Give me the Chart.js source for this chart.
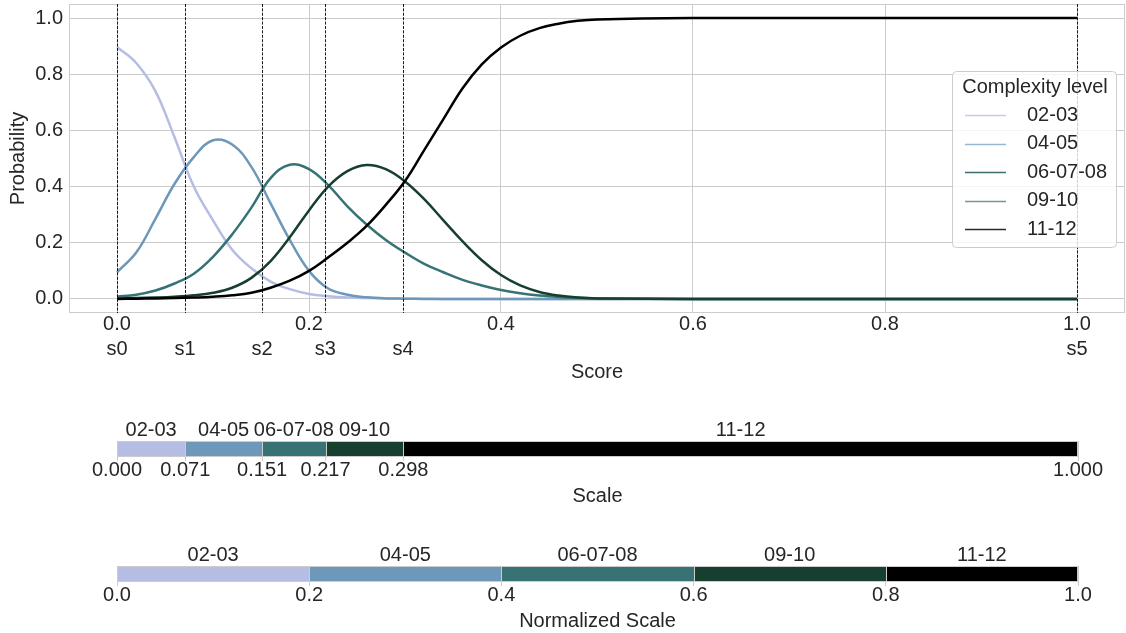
<!DOCTYPE html>
<html>
<head>
<meta charset="utf-8">
<title>Complexity level probabilities</title>
<script src="https://cdn.jsdelivr.net/npm/chart.js@4.4.0/dist/chart.umd.min.js"></script>
<style>
  body { margin: 0; background: #fff; }
  #wrap { position: relative; width: 1126px; height: 633px; }
  canvas { position: absolute; left: 0; }
</style>
</head>
<body>
<div id="wrap">
  <canvas id="main" width="1126" height="385" style="top:0"></canvas>
  <canvas id="scale" width="1126" height="125" style="top:395px"></canvas>
  <canvas id="norm" width="1126" height="113" style="top:520px"></canvas>
</div>
<script>
// complexity levels and their colours
const levels = ['02-03', '04-05', '06-07-08', '09-10', '11-12'];
const levelColors = ['#b5bde4', '#6e98b9', '#377374', '#173f30', '#000000'];
const legendColors = ['#c6cbee', '#98b6ce', '#3e6e6e', '#7a9690', '#2a2a2a'];

// score grid of the probability curves
const scores = [0, 0.02, 0.04, 0.06, 0.08, 0.10, 0.12, 0.14, 0.16, 0.18, 0.20, 0.22, 0.24, 0.26,
  0.28, 0.30, 0.32, 0.34, 0.36, 0.38, 0.40, 0.42, 0.44, 0.46, 0.48, 0.50, 0.60, 0.70, 0.80, 0.90, 1.00];

const prob0203 = [0.897, 0.84, 0.74, 0.575, 0.40, 0.28, 0.175, 0.109, 0.062, 0.035, 0.018, 0.010, 0.005,
  0.003, 0.002, 0.001, 0.001, 0, 0, 0, 0, 0, 0, 0, 0, 0, 0, 0, 0, 0, 0];
const prob0405 = [0.095, 0.165, 0.285, 0.41, 0.505, 0.565, 0.55, 0.47, 0.34, 0.21, 0.10, 0.037, 0.015,
  0.006, 0.002, 0.001, 0, 0, 0, 0, 0, 0, 0, 0, 0, 0, 0, 0, 0, 0, 0];
const prob060708 = [0.008, 0.015, 0.03, 0.055, 0.09, 0.15, 0.23, 0.325, 0.43, 0.478, 0.462, 0.405, 0.33,
  0.265, 0.21, 0.165, 0.125, 0.095, 0.068, 0.048, 0.032, 0.02, 0.012, 0.007, 0.004, 0.002, 0, 0, 0, 0, 0];
const prob0910 = [0.002, 0.003, 0.005, 0.008, 0.013, 0.022, 0.04, 0.075, 0.135, 0.22, 0.315, 0.40, 0.455,
  0.477, 0.462, 0.418, 0.355, 0.28, 0.205, 0.138, 0.085, 0.048, 0.025, 0.012, 0.005, 0.002, 0, 0, 0, 0, 0];
const prob1112 = [0, 0.001, 0.002, 0.003, 0.005, 0.008, 0.013, 0.022, 0.04, 0.065, 0.10, 0.148, 0.20,
  0.26, 0.335, 0.42, 0.53, 0.64, 0.75, 0.835, 0.895, 0.937, 0.964, 0.98, 0.99, 0.995, 1, 1, 1, 1, 1];
const probs = [prob0203, prob0405, prob060708, prob0910, prob1112];

// thresholds between levels
const scoreBounds = [0, 0.071, 0.151, 0.217, 0.298, 1.0];
const scoreBoundLabels = ['s0', 's1', 's2', 's3', 's4', 's5'];
const scaleTickLabels = ['0.000', '0.071', '0.151', '0.217', '0.298', '1.000'];
const normBounds = [0, 0.2, 0.4, 0.6, 0.8, 1.0];
const normTickLabels = ['0.0', '0.2', '0.4', '0.6', '0.8', '1.0'];
const scoreTicks = [0, 0.2, 0.4, 0.6, 0.8, 1.0];
const probTicks = [0, 0.2, 0.4, 0.6, 0.8, 1.0];

const FONT = '"Liberation Sans", Arial, sans-serif';
const TEXT = '#262626';
const GRID = '#cccccc';

Chart.defaults.font.family = FONT;
Chart.defaults.font.size = 20;
Chart.defaults.color = TEXT;

// light frame around the plot area
const frame = {
  id: 'frame',
  beforeDatasetsDraw(chart) {
    const { ctx, chartArea: a } = chart;
    ctx.save();
    ctx.strokeStyle = GRID;
    ctx.lineWidth = 1;
    ctx.strokeRect(Math.round(a.left) + 0.5, Math.round(a.top) + 0.5,
      Math.round(a.width) - 1, Math.round(a.height) - 1);
    ctx.restore();
  }
};

// dashed vertical lines at the thresholds
const thresholdLines = {
  id: 'thresholdLines',
  afterDatasetsDraw(chart) {
    const { ctx, chartArea: a, scales } = chart;
    ctx.save();
    ctx.strokeStyle = '#000';
    ctx.lineWidth = 0.9;
    ctx.setLineDash([3, 1.4]);
    scoreBounds.forEach(v => {
      const px = Math.round(scales.x.getPixelForValue(v)) + 0.5;
      ctx.beginPath();
      ctx.moveTo(px, a.top);
      ctx.lineTo(px, a.bottom);
      ctx.stroke();
    });
    ctx.restore();
  }
};

// legend box at center right of the plot area
const legendBox = {
  id: 'legendBox',
  afterDraw(chart) {
    const { ctx, chartArea: a } = chart;
    const w = 164, h = 176, rowH = 28.6;
    const x0 = Math.round(a.right - 9 - w);
    const y0 = Math.round((a.top + a.bottom) / 2 - h / 2);
    ctx.save();
    ctx.fillStyle = 'rgba(255,255,255,0.8)';
    ctx.strokeStyle = GRID;
    ctx.lineWidth = 1;
    ctx.beginPath();
    ctx.roundRect(x0 + 0.5, y0 + 0.5, w, h, 4);
    ctx.fill();
    ctx.stroke();
    ctx.fillStyle = TEXT;
    ctx.font = '20px ' + FONT;
    ctx.textBaseline = 'middle';
    ctx.textAlign = 'center';
    ctx.fillText('Complexity level', x0 + w / 2 + 1, y0 + 16);
    ctx.textAlign = 'left';
    levels.forEach((name, i) => {
      const y = y0 + 44 + i * rowH;
      ctx.strokeStyle = legendColors[i];
      ctx.lineWidth = 1.5;
      ctx.beginPath();
      ctx.moveTo(x0 + 13, Math.round(y) + 0.5);
      ctx.lineTo(x0 + 54, Math.round(y) + 0.5);
      ctx.stroke();
      ctx.fillText(name, x0 + 75, y);
    });
    ctx.restore();
  }
};

// x ticks: numeric scores plus threshold names on a second row
const mainTicks = [...new Set([...scoreTicks, ...scoreBounds])].sort((a, b) => a - b);

new Chart(document.getElementById('main'), {
  type: 'line',
  data: {
    datasets: levels.map((name, i) => ({
      label: name,
      data: scores.map((s, j) => ({ x: s, y: probs[i][j] })),
      borderColor: levelColors[i],
      borderWidth: 2.5,
      pointRadius: 0,
      tension: 0.4,
      order: levels.length - i
    }))
  },
  options: {
    responsive: false,
    devicePixelRatio: 1,
    animation: false,
    layout: { padding: { top: 4, right: 1, left: 0, bottom: 0 } },
    plugins: { legend: { display: false }, tooltip: { enabled: false } },
    scales: {
      x: {
        type: 'linear',
        min: -0.05,
        max: 1.05,
        afterBuildTicks: axis => { axis.ticks = mainTicks.map(v => ({ value: v })); },
        afterFit: axis => { axis.height = 72; axis.paddingLeft = 0; axis.paddingRight = 0; },
        ticks: {
          autoSkip: false,
          maxRotation: 0,
          minRotation: 0,
          padding: -1.5,
          font: { size: 20, lineHeight: 1.25 },
          callback: v => {
            const i = scoreTicks.indexOf(v);
            const k = scoreBounds.indexOf(v);
            return [i >= 0 ? v.toFixed(1) : '', k >= 0 ? scoreBoundLabels[k] : ''];
          }
        },
        grid: {
          drawTicks: false,
          color: c => (c.tick && scoreTicks.includes(c.tick.value)) ? GRID : 'rgba(0,0,0,0)'
        },
        border: { display: false },
        title: { display: true, text: 'Score', padding: { top: 0, bottom: 1 } }
      },
      y: {
        min: -0.05,
        max: 1.05,
        afterBuildTicks: axis => { axis.ticks = probTicks.map(v => ({ value: v })); },
        afterFit: axis => { axis.width = 69; axis.paddingTop = 0; axis.paddingBottom = 0; },
        ticks: { padding: 6, callback: v => v.toFixed(1) },
        grid: { drawTicks: false, color: GRID },
        border: { display: false },
        title: { display: true, text: 'Probability', padding: { top: 6, bottom: 0 } }
      }
    }
  },
  plugins: [frame, thresholdLines, legendBox]
});

// outline and separators of a colour bar
const barOutline = {
  id: 'barOutline',
  afterDatasetsDraw(chart, args, opts) {
    const { ctx, chartArea: a, scales } = chart;
    ctx.save();
    ctx.strokeStyle = GRID;
    ctx.lineWidth = 1;
    opts.bounds.forEach(v => {
      const px = Math.round(scales.x.getPixelForValue(v)) + 0.5;
      ctx.beginPath();
      ctx.moveTo(px, a.top);
      ctx.lineTo(px, a.bottom);
      ctx.stroke();
    });
    ctx.strokeRect(Math.round(a.left) + 0.5, Math.round(a.top) + 0.5,
      Math.round(a.width) - 1, Math.round(a.height) - 1);
    ctx.restore();
  }
};

function colorBar(id, bounds, tickLabels, title, bottomHeight, titlePad) {
  const centers = bounds.slice(0, -1).map((b, i) => (b + bounds[i + 1]) / 2);
  new Chart(document.getElementById(id), {
    type: 'bar',
    data: {
      labels: [''],
      datasets: levels.map((name, i) => ({
        label: name,
        data: [[bounds[i], bounds[i + 1]]],
        backgroundColor: levelColors[i],
        borderWidth: 0,
        grouped: false,
        barPercentage: 1,
        categoryPercentage: 1
      }))
    },
    options: {
      indexAxis: 'y',
      responsive: false,
      devicePixelRatio: 1,
      animation: false,
      layout: { padding: { left: 117, right: 48, top: 0, bottom: 0 } },
      plugins: {
        legend: { display: false },
        tooltip: { enabled: false },
        barOutline: { bounds: bounds }
      },
      scales: {
        y: { display: false },
        x: {
          type: 'linear',
          min: 0,
          max: 1,
          afterBuildTicks: axis => { axis.ticks = bounds.map(v => ({ value: v })); },
          afterFit: axis => { axis.height = bottomHeight; },
          ticks: {
            autoSkip: false, maxRotation: 0, minRotation: 0, padding: -3,
            callback: (v, i) => tickLabels[i]
          },
          grid: { drawOnChartArea: false, drawTicks: true, tickLength: 4, tickColor: GRID },
          border: { display: false },
          title: { display: true, text: title, padding: { top: 0, bottom: titlePad } }
        },
        x2: {
          axis: 'x',
          type: 'linear',
          position: 'top',
          min: 0,
          max: 1,
          afterBuildTicks: axis => { axis.ticks = centers.map(v => ({ value: v })); },
          afterFit: axis => { axis.height = 46; },
          ticks: {
            autoSkip: false, maxRotation: 0, minRotation: 0, padding: -1,
            callback: (v, i) => levels[i]
          },
          grid: { display: false, drawTicks: false },
          border: { display: false }
        }
      }
    },
    plugins: [barOutline]
  });
}

colorBar('scale', scoreBounds, scaleTickLabels, 'Scale', 63, 12);
colorBar('norm', normBounds, normTickLabels, 'Normalized Scale', 51, 0);
</script>
</body>
</html>
